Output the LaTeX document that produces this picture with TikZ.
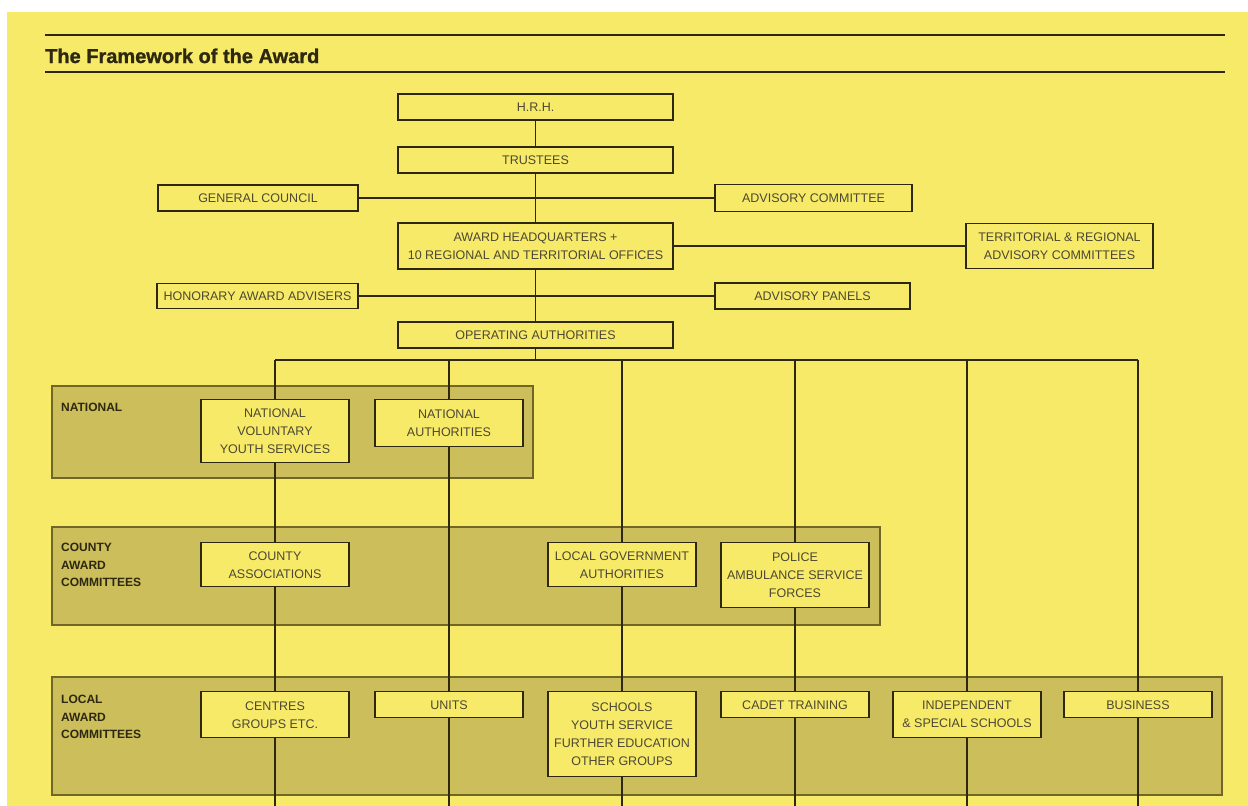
\documentclass[tikz,border=0pt]{standalone}
\usepackage{fontspec}
\setmainfont{Liberation Sans}
\definecolor{paper}{RGB}{247,234,104}
\definecolor{band}{RGB}{204,190,90}
\definecolor{bandedge}{RGB}{112,102,38}
\definecolor{ink}{RGB}{45,40,15}
\begin{document}
\begin{tikzpicture}[x=1pt,y=-1pt,
    box/.style={draw=ink,fill=paper,line width=1.4pt,align=center,inner sep=0pt,
      font=\fontsize{12.5}{18}\selectfont,text=ink!85},
    wire/.style={draw=ink,line width=1.8pt},
    tier/.style={fill=band,draw=bandedge,line width=1.3pt},
    tierlabel/.style={anchor=north west,align=left,inner sep=0pt,
      font=\fontsize{12}{17.5}\selectfont\bfseries,text=ink}]
  \useasboundingbox (0,0) rectangle (1248,806);
  \fill[white] (0,0) rectangle (1248,806);
  \fill[paper] (7,12) rectangle (1248,806);

  % Heading between two rules.
  \draw[ink,line width=2.4pt] (45,35) -- (1225,35);
  \draw[ink,line width=2.4pt] (45,72) -- (1225,72);
  \node[anchor=base west,inner sep=0pt,text=ink,
    font=\fontsize{20}{24}\selectfont\bfseries\addfontfeature{FakeBold=1.2}] (title) at (45,63)
    {The Framework of the Award};

  % Shaded tiers.
  \filldraw[tier] (52,386) rectangle (533,478);
  \filldraw[tier] (52,527) rectangle (880,625);
  \filldraw[tier] (52,677) rectangle (1222,795);
  \node[tierlabel] (lnational) at (61,403) {NATIONAL};
  \node[tierlabel] (lcounty) at (61,543) {COUNTY\\AWARD\\COMMITTEES};
  \node[tierlabel] (llocal) at (61,695) {LOCAL\\AWARD\\COMMITTEES};

  % Upper chain.
  \node[box,minimum width=275,minimum height=26] (hrh) at (535.5,107) {H.R.H.};
  \node[box,minimum width=275,minimum height=26] (trustees) at (535.5,160) {TRUSTEES};
  \node[box,minimum width=200,minimum height=26] (council) at (258,198) {GENERAL COUNCIL};
  \node[box,minimum width=197,minimum height=27] (advcom) at (813.5,198) {ADVISORY COMMITTEE};
  \node[box,minimum width=275,minimum height=46] (hq) at (535.5,246)
    {AWARD HEADQUARTERS +\\10 REGIONAL AND TERRITORIAL OFFICES};
  \node[box,minimum width=187,minimum height=45] (terr) at (1059.5,246)
    {TERRITORIAL \& REGIONAL\\ADVISORY COMMITTEES};
  \node[box,minimum width=201,minimum height=25] (honorary) at (257.5,296) {HONORARY AWARD ADVISERS};
  \node[box,minimum width=195,minimum height=26] (panels) at (812.5,296) {ADVISORY PANELS};
  \node[box,minimum width=275,minimum height=26] (operating) at (535.5,335) {OPERATING AUTHORITIES};

  \draw[wire] (hrh) -- (trustees);
  \draw[wire] (trustees) -- (hq);
  \draw[wire] (hq) -- (operating);
  \draw[wire] (council) -- (advcom);
  \draw[wire] (hq) -- (terr);
  \draw[wire] (honorary) -- (panels);

  % Bus and column ends.
  \coordinate (fork) at (535.5,360);
  \foreach \i/\x in {1/275,2/449,3/622,4/795,5/967,6/1138}{
    \coordinate (c\i) at (\x,360);
    \coordinate (e\i) at (\x,806);
  }
  \draw[wire] (operating) -- (fork);
  \draw[wire] (c1) -- (c6);

  % National tier.
  \node[box,anchor=north,minimum width=148,minimum height=63] (nvys) at (275,399)
    {NATIONAL\\VOLUNTARY\\YOUTH SERVICES};
  \node[box,anchor=north,minimum width=148,minimum height=47] (natauth) at (449,399)
    {NATIONAL\\AUTHORITIES};

  % County tier.
  \node[box,anchor=north,minimum width=148,minimum height=44] (countyassoc) at (275,542)
    {COUNTY\\ASSOCIATIONS};
  \node[box,anchor=north,minimum width=148,minimum height=44] (localgov) at (622,542)
    {LOCAL GOVERNMENT\\AUTHORITIES};
  \node[box,anchor=north,minimum width=148,minimum height=65] (police) at (795,542)
    {POLICE\\AMBULANCE SERVICE\\FORCES};

  % Local tier.
  \node[box,anchor=north,minimum width=148,minimum height=46] (centres) at (275,691)
    {CENTRES\\GROUPS ETC.};
  \node[box,anchor=north,minimum width=148,minimum height=26] (units) at (449,691) {UNITS};
  \node[box,anchor=north,minimum width=148,minimum height=85] (schools) at (622,691)
    {SCHOOLS\\YOUTH SERVICE\\FURTHER EDUCATION\\OTHER GROUPS};
  \node[box,anchor=north,minimum width=148,minimum height=26] (cadet) at (795,691) {CADET TRAINING};
  \node[box,anchor=north,minimum width=148,minimum height=46] (indep) at (967,691)
    {INDEPENDENT\\\& SPECIAL SCHOOLS};
  \node[box,anchor=north,minimum width=148,minimum height=26] (business) at (1138,691) {BUSINESS};

  % Columns down through the tiers.
  \draw[wire] (c1) -- (nvys);
  \draw[wire] (nvys) -- (countyassoc);
  \draw[wire] (countyassoc) -- (centres);
  \draw[wire] (centres) -- (e1);
  \draw[wire] (c2) -- (natauth);
  \draw[wire] (natauth) -- (units);
  \draw[wire] (units) -- (e2);
  \draw[wire] (c3) -- (localgov);
  \draw[wire] (localgov) -- (schools);
  \draw[wire] (schools) -- (e3);
  \draw[wire] (c4) -- (police);
  \draw[wire] (police) -- (cadet);
  \draw[wire] (cadet) -- (e4);
  \draw[wire] (c5) -- (indep);
  \draw[wire] (indep) -- (e5);
  \draw[wire] (c6) -- (business);
  \draw[wire] (business) -- (e6);
\end{tikzpicture}
\end{document}
